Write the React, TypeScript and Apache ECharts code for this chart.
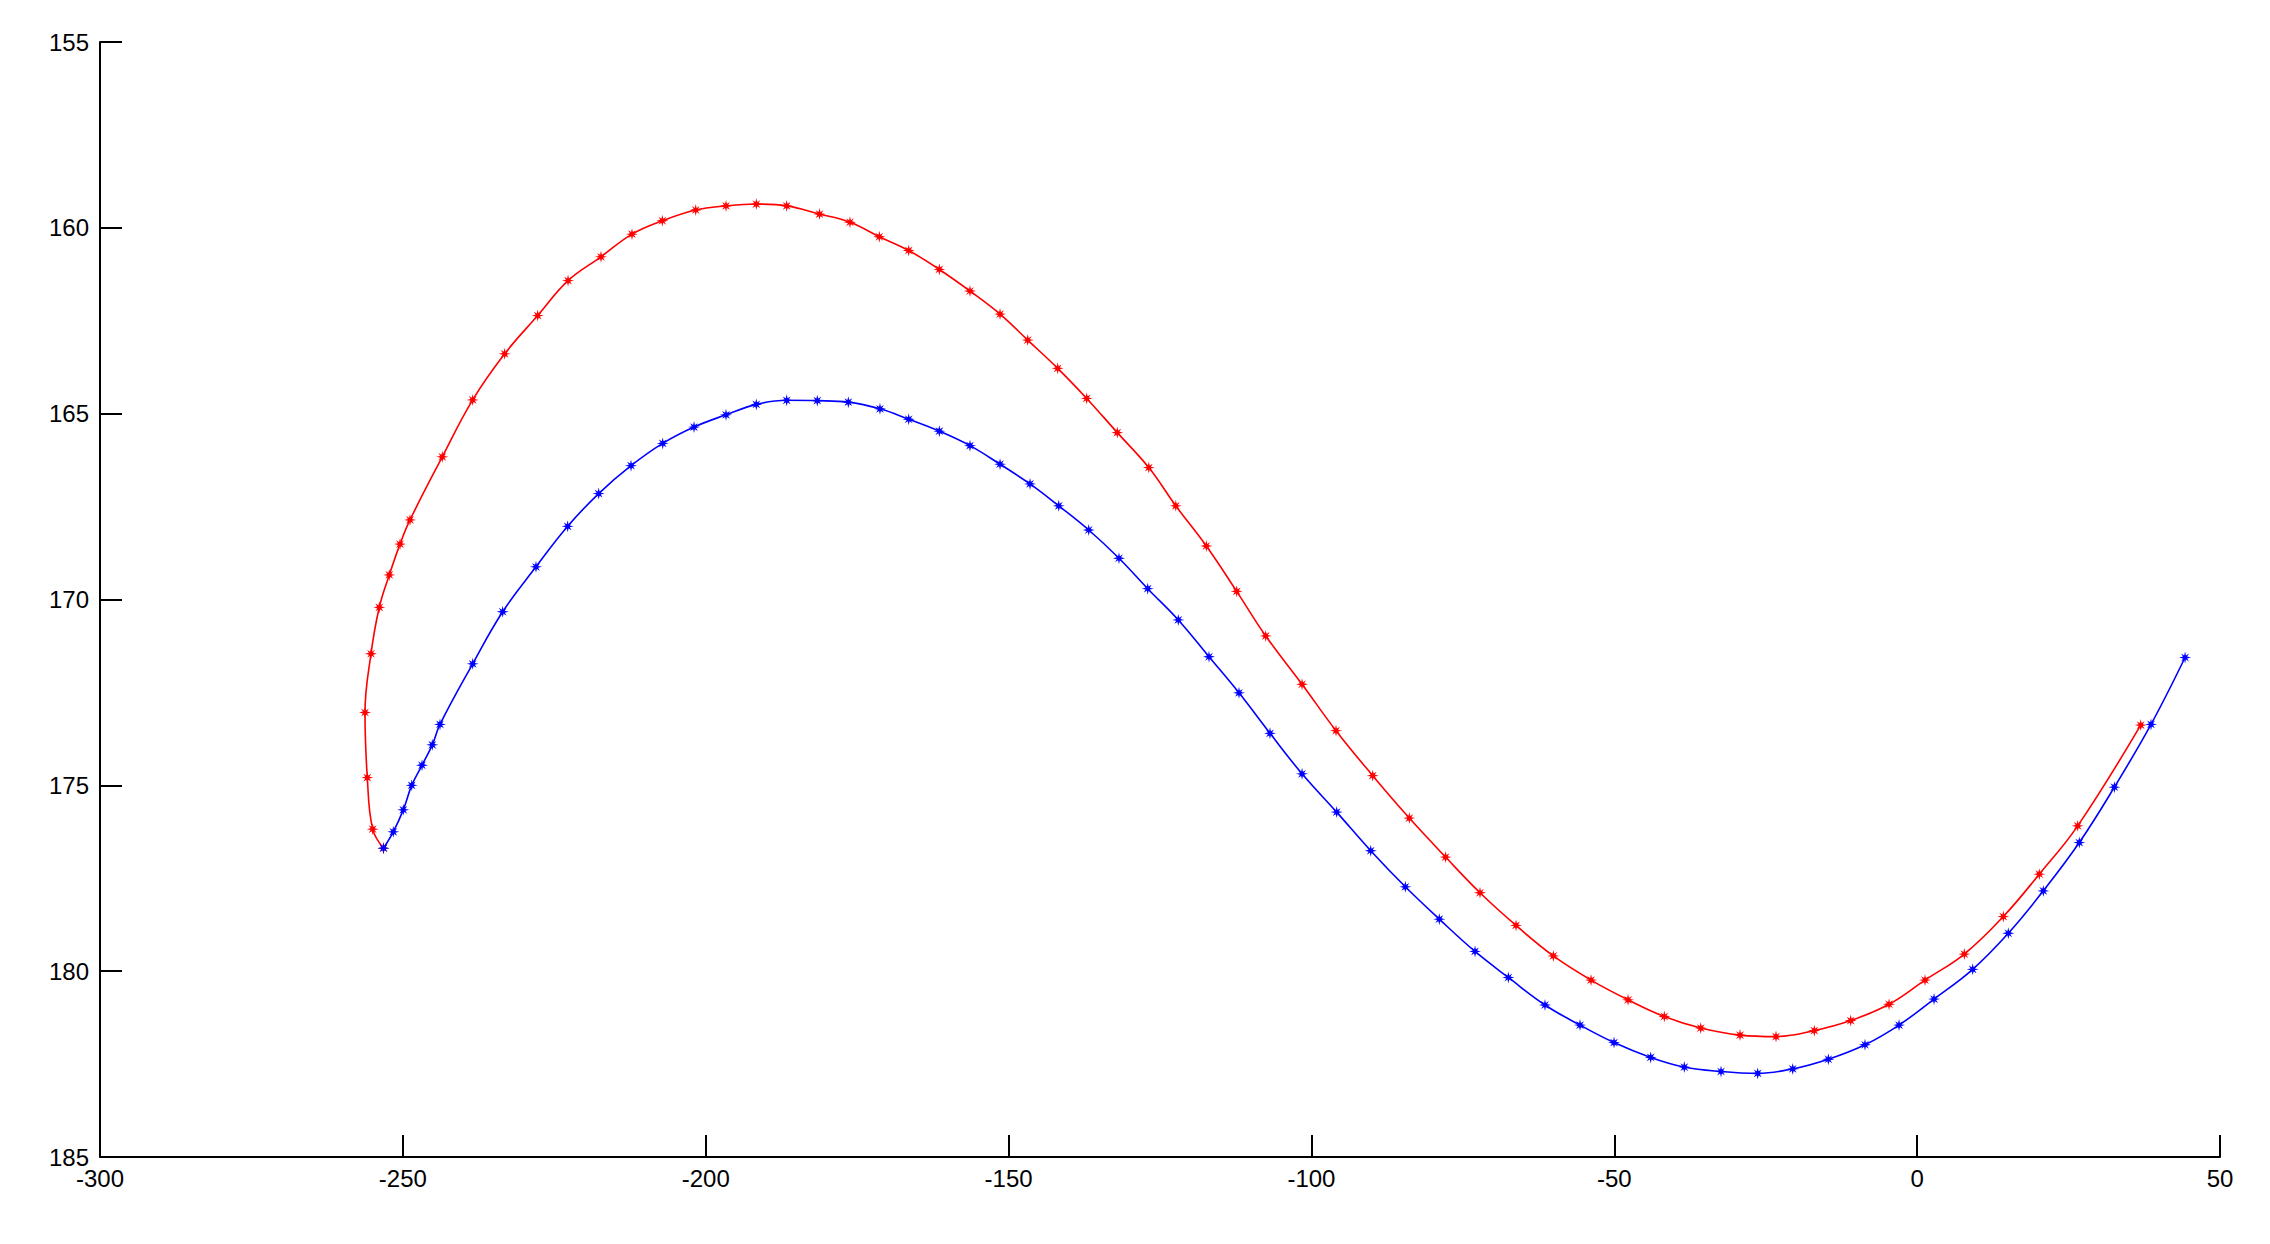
import React, { useEffect, useRef } from "react";
import * as echarts from "echarts";

// Tick values
const xTicks = [-300, -250, -200, -150, -100, -50, 0, 50];
const yTicks = [155, 160, 165, 170, 175, 180, 185];

// Red curve (upper surface)
const redX = [
  -253.2, -254.98, -255.87, -256.25, -255.26, -253.89, -252.24, -250.47, -248.82, -243.49,
  -238.47, -233.19, -227.74, -222.73, -217.29, -212.17, -207.17, -201.65, -196.65, -191.65,
  -186.63, -181.21, -176.18, -171.34, -166.49, -161.43, -156.37, -151.41, -146.84, -141.89,
  -137.1, -132.05, -126.85, -122.39, -117.35, -112.34, -107.55, -101.55, -95.94, -89.88,
  -83.84, -77.85, -72.17, -66.22, -60.06, -53.84, -47.73, -41.74, -35.73, -29.24,
  -23.3, -16.98, -10.97, -4.64, 1.3, 7.79, 14.23, 20.17, 26.51, 36.91,
];
const redY = [
  176.69, 176.18, 174.79, 173.04, 171.46, 170.21, 169.34, 168.51, 167.86, 166.16,
  164.63, 163.39, 162.36, 161.42, 160.78, 160.17, 159.81, 159.52, 159.41, 159.36,
  159.41, 159.63, 159.85, 160.24, 160.61, 161.12, 161.7, 162.32, 163.02, 163.78,
  164.59, 165.51, 166.45, 167.48, 168.56, 169.78, 170.98, 172.28, 173.53, 174.74,
  175.88, 176.93, 177.89, 178.77, 179.59, 180.24, 180.77, 181.22, 181.53, 181.72,
  181.76, 181.6, 181.33, 180.89, 180.24, 179.54, 178.53, 177.39, 176.09, 173.38,
];

// Blue curve (lower surface)
const blueX = [
  -253.2, -251.58, -249.93, -248.54, -246.84, -245.14, -243.87, -238.47, -233.52, -228.02,
  -222.79, -217.67, -212.33, -207.1, -201.93, -196.65, -191.65, -186.63, -181.58, -176.46,
  -171.23, -166.49, -161.43, -156.37, -151.41, -146.46, -141.72, -136.77, -131.77, -127.03,
  -121.98, -116.91, -111.96, -106.84, -101.55, -95.83, -90.21, -84.5, -78.89, -72.99,
  -67.49, -61.44, -55.66, -50.04, -43.99, -38.44, -32.38, -26.32, -20.54, -14.66,
  -8.61, -2.99, 2.79, 9.17, 15.05, 20.83, 26.77, 32.56, 38.61, 44.23,
];
const blueY = [
  176.69, 176.25, 175.66, 175.0, 174.46, 173.91, 173.36, 171.73, 170.33, 169.12,
  168.03, 167.15, 166.4, 165.8, 165.36, 165.03, 164.75, 164.64, 164.65, 164.69,
  164.87, 165.15, 165.47, 165.86, 166.36, 166.89, 167.48, 168.13, 168.89, 169.71,
  170.55, 171.54, 172.51, 173.6, 174.69, 175.72, 176.76, 177.73, 178.6, 179.47,
  180.17, 180.91, 181.45, 181.92, 182.32, 182.58, 182.7, 182.75, 182.63, 182.37,
  181.98, 181.45, 180.75, 179.95, 178.98, 177.84, 176.54, 175.05, 173.36, 171.56,
];

// small filled asterisk-like marker (plus arms longer than diagonals)
const STAR =
  "path://M20,10L13.5,11.5L16.5,16.5L11.5,13.5L10,20L8.5,13.5L3.5,16.5L6.5,11.5L0,10L6.5,8.5L3.5,3.5L8.5,6.5L10,0L11.5,6.5L16.5,3.5L13.5,8.5Z";

export default function App() {
  const ref = useRef<HTMLDivElement>(null);

  useEffect(() => {
    if (!ref.current) return;
    const chart = echarts.init(ref.current, null, { renderer: "svg" });
    const red = redX.map((x, i) => [x, redY[i]]);
    const blue = blueX.map((x, i) => [x, blueY[i]]);
    const labelStyle = {
      color: "#000",
      fontSize: 24,
      fontFamily: "'Liberation Sans', Arial, sans-serif",
    };
    chart.setOption({
      animation: false,
      backgroundColor: "#fff",
      grid: { left: 100, right: 50, top: 42, bottom: 87, containLabel: false },
      xAxis: {
        type: "value",
        min: xTicks[0],
        max: xTicks[xTicks.length - 1],
        interval: 50,
        axisLine: { show: true, onZero: false, lineStyle: { color: "#000", width: 2 } },
        axisTick: { show: true, inside: true, length: 22, lineStyle: { color: "#000", width: 2 } },
        axisLabel: { ...labelStyle, margin: 9, showMinLabel: true, showMaxLabel: true },
        splitLine: { show: false },
      },
      yAxis: {
        type: "value",
        inverse: true,
        min: yTicks[0],
        max: yTicks[yTicks.length - 1],
        interval: 5,
        axisLine: { show: true, onZero: false, lineStyle: { color: "#000", width: 2 } },
        axisTick: { show: true, inside: true, length: 22, lineStyle: { color: "#000", width: 2 } },
        axisLabel: { ...labelStyle, margin: 11, showMinLabel: true, showMaxLabel: true },
        splitLine: { show: false },
      },
      series: [
        {
          type: "line",
          name: "red",
          data: red,
          smooth: 0.4,
          symbol: STAR,
          symbolSize: 12,
          showAllSymbol: true,
          lineStyle: { color: "#ff0000", width: 1.6 },
          itemStyle: { color: "#ff0000" },
          z: 2,
        },
        {
          type: "line",
          name: "blue",
          data: blue,
          smooth: 0.4,
          symbol: STAR,
          symbolSize: 12,
          showAllSymbol: true,
          lineStyle: { color: "#0000ff", width: 1.6 },
          itemStyle: { color: "#0000ff" },
          z: 3,
        },
      ],
    });
    return () => chart.dispose();
  }, []);

  return (
    <div
      ref={ref}
      style={{ position: "fixed", left: 0, top: 0, width: 2270, height: 1244, background: "#fff" }}
    />
  );
}
